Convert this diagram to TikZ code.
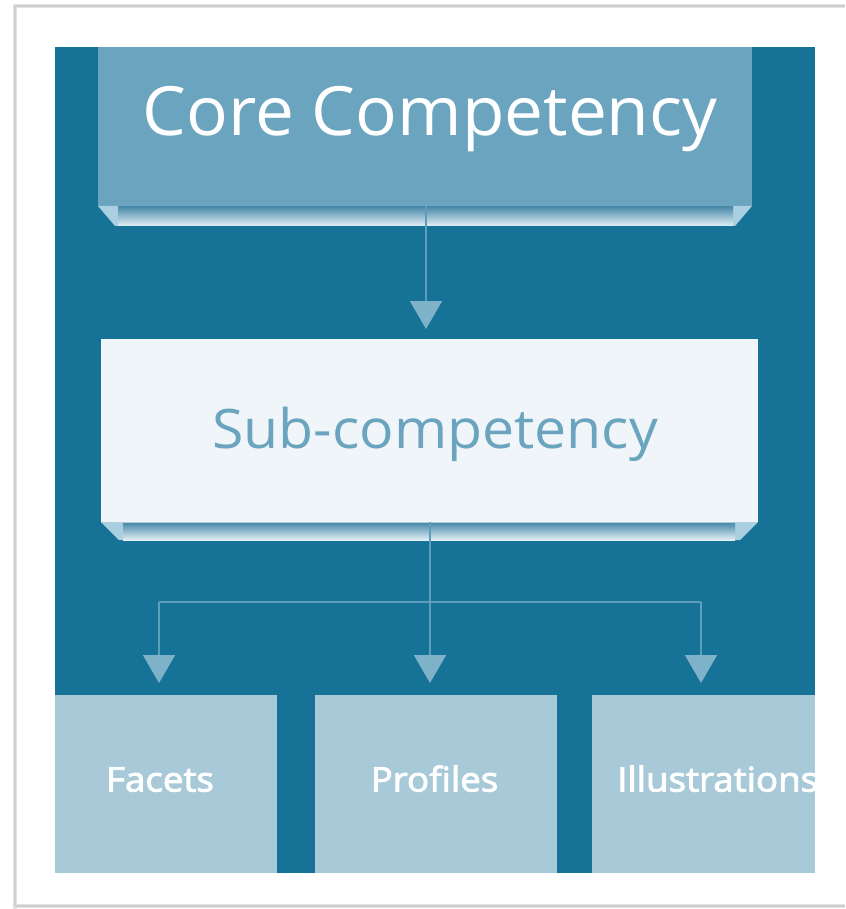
\documentclass[tikz,border=0pt]{standalone}
\usepackage{fontspec}
\setmainfont{Open Sans}
\newfontfamily\corefont[FakeStretch=1.02]{Open Sans}
\newfontfamily\subfont[FakeStretch=1.05]{Open Sans}
\newfontfamily\leaffont[FakeStretch=1.08]{Open Sans}
\newcommand{\semibold}[1]{\special{pdf:literal 2 Tr 0.9 w}#1\special{pdf:literal 0 Tr}}
\usetikzlibrary{arrows.meta}
\definecolor{darkteal}{HTML}{167296}
\definecolor{corefill}{HTML}{6AA4BF}
\definecolor{subfill}{HTML}{EFF5F9}
\definecolor{leaffill}{HTML}{A7C9D8}
\definecolor{linecol}{HTML}{5F9DBA}
\definecolor{tipcol}{HTML}{7DB2C9}
\definecolor{bevside}{HTML}{A9CFE0}
\definecolor{bevtop}{HTML}{4C8BAA}
\definecolor{bevbot}{HTML}{E2EFF5}
\definecolor{framecol}{HTML}{CFCFCF}
\tikzset{
  boxnode/.style={draw=none, inner sep=0pt, outer sep=0pt, anchor=north west},
  conn/.style={draw=linecol, line width=1.8pt, -{Triangle[width=32pt,length=28pt,fill=tipcol,color=tipcol]}},
  plainconn/.style={draw=linecol, line width=1.8pt},
  leaflabel/.style={text=white, font=\leaffont\fontsize{34}{36}\selectfont, inner sep=0pt},
}
\begin{document}
\begin{tikzpicture}[x=1pt,y=-1pt]
\useasboundingbox (0,0) rectangle (845,909);
\fill[white] (0,0) rectangle (845,909);
% frame
\draw[framecol!60, line width=4pt] (15,909) -- (15,6) -- (845,6);
\draw[framecol!60, line width=4pt] (15,906) -- (845,906);
\draw[framecol, line width=1.5pt] (15,906) -- (15,6) -- (845,6);
\draw[framecol, line width=1.5pt] (15,906) -- (845,906);
% background
\fill[darkteal] (55,47) rectangle (815,873);
% core box
\node[boxnode, fill=corefill, minimum width=654pt, minimum height=159pt] (core) at (98,47) {};
\node[text=white, font=\corefont\fontsize{68}{72}\selectfont, inner sep=0pt, anchor=base] at (430,135.5) {Core Competency};
% core bevel
\fill[bevside] (98,206) -- (752,206) -- (735,226) -- (115,226) -- cycle;
\shade[top color=bevtop, bottom color=bevbot] (118,207) rectangle (733,226);
% sub box
\node[boxnode, fill=subfill, minimum width=657pt, minimum height=183pt] (sub) at (101,339) {};
\node[text=corefill, font=\subfont\fontsize{54.5}{58}\selectfont, inner sep=0pt, anchor=base] at (435,448) {Sub-competency};
% sub bevel
\fill[bevside] (101,522) -- (758,522) -- (740,540) -- (119,540) -- cycle;
\shade[top color=bevtop, bottom color=bevbot] (123,523) rectangle (735,540);
% leaf boxes
\node[boxnode, fill=leaffill, minimum width=222pt, minimum height=178pt] (facets) at (55,695) {};
\node[boxnode, fill=leaffill, minimum width=242pt, minimum height=178pt] (profiles) at (315,695) {};
\node[boxnode, fill=leaffill, minimum width=223pt, minimum height=178pt] (illus) at (592,695) {};
\node[leaflabel, anchor=base] at (160,791.5) {\semibold{Facets}};
\node[leaflabel, anchor=base] at (434.5,791.5) {\semibold{Profiles}};
\begin{scope}
\clip (592,695) rectangle (815,873);
\node[leaflabel, anchor=base west] at (617,791.5) {\semibold{Illustrations}};
\end{scope}
% connectors
\coordinate (jc) at (430,602);
\coordinate (jl) at (159,602);
\coordinate (jr) at (701,602);
\draw[conn, shorten >=10pt] (core.south -| 426,0) -- (426,0 |- sub.north);
\draw[plainconn] (sub.south -| jc) -- (jc);
\draw[plainconn] (jl) -- (jr);
\draw[conn, shorten >=12pt] (jl) -- (jl |- facets.north);
\draw[conn, shorten >=12pt] (jc) -- (jc |- profiles.north);
\draw[conn, shorten >=12pt] (jr) -- (jr |- illus.north);
\end{tikzpicture}
\end{document}
